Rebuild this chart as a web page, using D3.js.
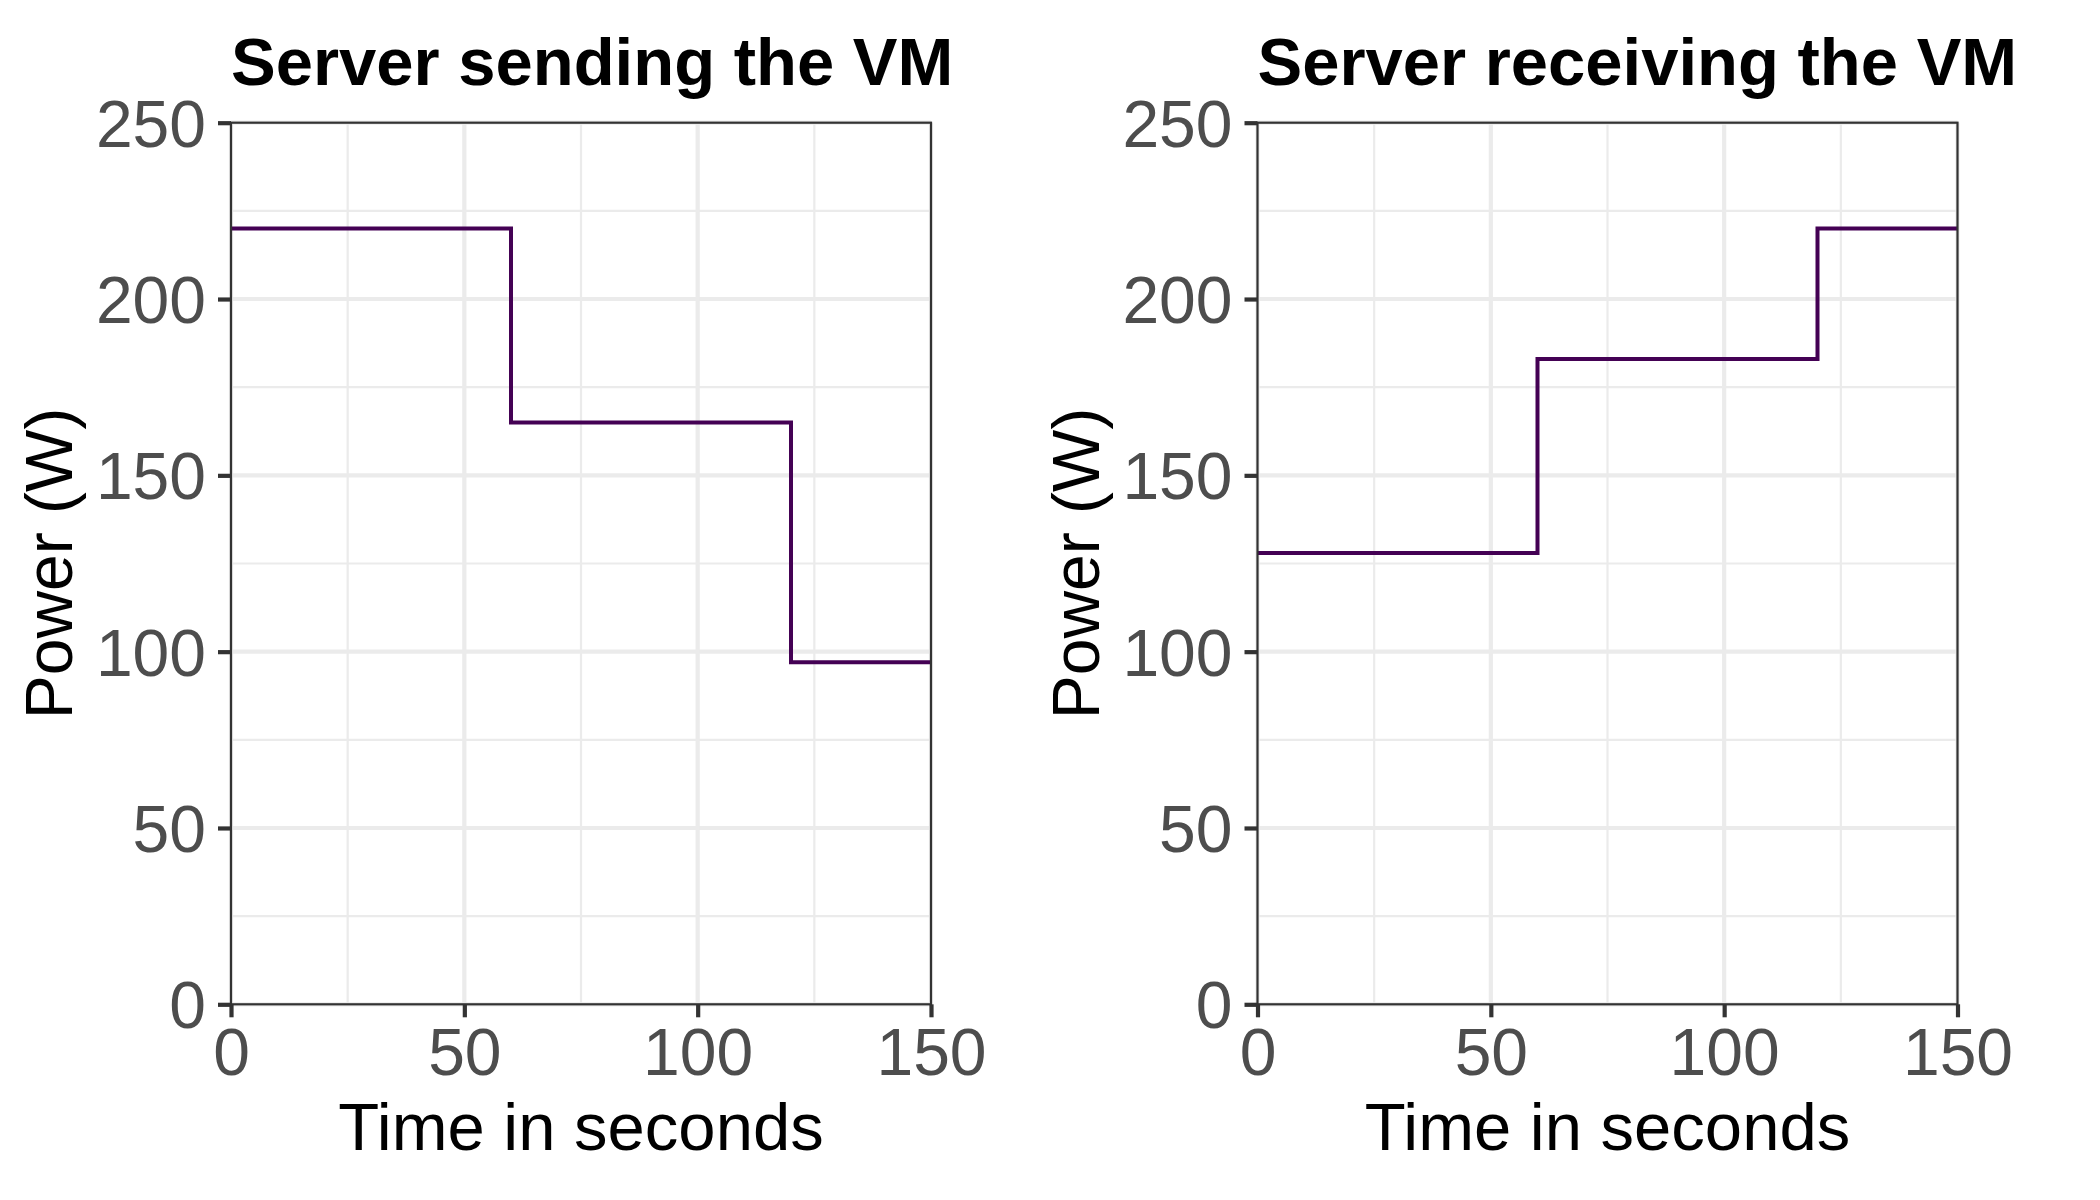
<!DOCTYPE html>
<html>
<head>
<meta charset="utf-8">
<script src="https://cdn.jsdelivr.net/npm/d3@7"></script>
<style>
  html, body { margin: 0; padding: 0; background: #fff; }
  svg { display: block; }
  text { font-family: "Liberation Sans", Arial, Helvetica, sans-serif; }
</style>
</head>
<body>
<svg id="chart" width="2100" height="1200"></svg>
<script>
// ---- data ----
const panelTitles = ["Server sending the VM", "Server receiving the VM"];
const timePoints = [0, 60, 120, 150];
const sendingPower = [220, 165, 97, 97];
const receivingPower = [128, 183, 220, 220];
const xTicks = [0, 50, 100, 150];
const xMinor = [25, 75, 125];
const yTicks = [0, 50, 100, 150, 200, 250];
const yMinor = [25, 75, 125, 175, 225];
const xLabel = "Time in seconds";
const yLabel = "Power (W)";

const svg = d3.select("#chart");
const panelTop = 122.7, panelBottom = 1004.3;
const panels = [
  { left: 231, right: 931, values: sendingPower, title: panelTitles[0] },
  { left: 1257.5, right: 1957.5, values: receivingPower, title: panelTitles[1] }
];
const FS = 66;
const TFS = 67;

panels.forEach(p => {
  const x = d3.scaleLinear().domain([0, 150]).range([p.left, p.right]);
  const y = d3.scaleLinear().domain([0, 250]).range([panelBottom, panelTop]);
  const g = svg.append("g");

  // minor grid
  g.selectAll(".ymin").data(yMinor).join("line")
    .attr("x1", p.left).attr("x2", p.right)
    .attr("y1", d => y(d)).attr("y2", d => y(d))
    .attr("stroke", "#EBEBEB").attr("stroke-width", 2.2);
  g.selectAll(".xmin").data(xMinor).join("line")
    .attr("y1", panelTop).attr("y2", panelBottom)
    .attr("x1", d => x(d)).attr("x2", d => x(d))
    .attr("stroke", "#EBEBEB").attr("stroke-width", 2.2);
  // major grid
  g.selectAll(".ymaj").data(yTicks).join("line")
    .attr("x1", p.left).attr("x2", p.right)
    .attr("y1", d => y(d)).attr("y2", d => y(d))
    .attr("stroke", "#EBEBEB").attr("stroke-width", 4.2);
  g.selectAll(".xmaj").data(xTicks).join("line")
    .attr("y1", panelTop).attr("y2", panelBottom)
    .attr("x1", d => x(d)).attr("x2", d => x(d))
    .attr("stroke", "#EBEBEB").attr("stroke-width", 4.2);

  // step line
  const line = d3.line()
    .x((d, i) => x(timePoints[i]))
    .y(d => y(d))
    .curve(d3.curveStepAfter);
  g.append("path").datum(p.values)
    .attr("d", line)
    .attr("fill", "none")
    .attr("stroke", "#440154")
    .attr("stroke-width", 4)
    .attr("stroke-linejoin", "miter");

  // panel border
  g.append("rect")
    .attr("x", p.left).attr("y", panelTop)
    .attr("width", p.right - p.left).attr("height", panelBottom - panelTop)
    .attr("fill", "none").attr("stroke", "#333333").attr("stroke-width", 2.2);

  // axes
  const yAxis = d3.axisLeft(y).tickValues(yTicks).tickSize(13).tickPadding(12);
  const gy = g.append("g").attr("transform", `translate(${p.left},0)`).call(yAxis);
  const xAxis = d3.axisBottom(x).tickValues(xTicks).tickSize(13).tickPadding(10);
  const gx = g.append("g").attr("transform", `translate(0,${panelBottom})`).call(xAxis);
  [gy, gx].forEach(a => {
    a.select(".domain").remove();
    a.selectAll(".tick line").attr("stroke", "#333333").attr("stroke-width", 4.2);
    a.selectAll(".tick text").attr("fill", "#4D4D4D")
      .style("font-size", FS + "px")
      .style("font-family", '"Liberation Sans", Arial, sans-serif');
  });
  gy.selectAll(".tick text").attr("dy", "0.358em");
  gx.selectAll(".tick text").attr("dy", "0.73em");

  // title
  g.append("text")
    .attr("x", p.left).attr("y", 85)
    .attr("font-size", TFS).attr("font-weight", "bold").attr("fill", "#000")
    .text(p.title);

  // x label
  g.append("text")
    .attr("x", (p.left + p.right) / 2).attr("y", 1150)
    .attr("text-anchor", "middle").attr("font-size", TFS).attr("fill", "#000")
    .text(xLabel);

  // y label
  g.append("text")
    .attr("transform", `translate(${p.left - 159},${(panelTop + panelBottom) / 2}) rotate(-90)`)
    .attr("text-anchor", "middle").attr("font-size", FS).attr("fill", "#000")
    .text(yLabel);
});
</script>
</body>
</html>
